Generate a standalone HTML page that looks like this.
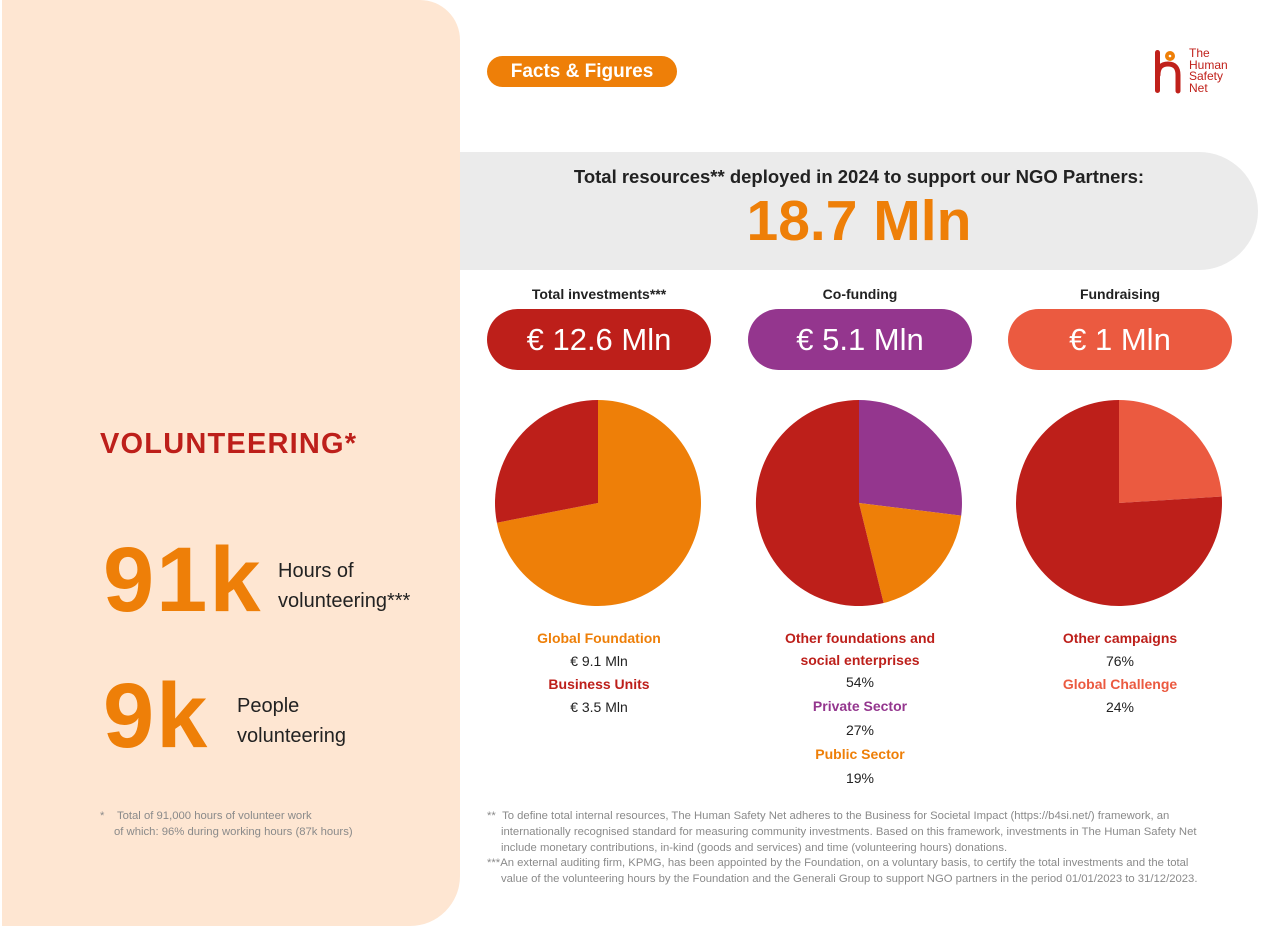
<!DOCTYPE html>
<html><head><meta charset="utf-8"><style>
body{margin:0;width:1288px;height:926px;position:relative;background:#fff;font-family:"Liberation Sans",sans-serif;overflow:hidden}
.a{position:absolute;white-space:nowrap}
.c{text-align:center}
.b{font-weight:bold}
.pill{position:absolute;top:309px;width:224px;height:61px;border-radius:31px;color:#fff;font-size:31px;line-height:61px;text-align:center}
.fn{position:absolute;font-size:11.3px;color:#8a8a8a;white-space:nowrap;line-height:15.8px}
</style></head><body>
<div class="a" style="left:2px;top:0;width:458px;height:926px;background:#fee6d2;border-radius:0 40px 50px 0"></div>
<div class="a" style="left:460px;top:152px;width:798px;height:118px;background:#ebebeb;border-radius:0 59px 59px 0"></div>
<div class="a b" style="left:487px;top:56px;width:190px;height:31px;background:#ee7f08;border-radius:16px;color:#fff;font-size:19px;line-height:31px;text-align:center">Facts &amp; Figures</div>
<svg class="a" style="left:1150px;top:45px" width="40" height="50"><rect x="5" y="5" width="5" height="43" rx="2.5" fill="#c0211b"/><path d="M8 30 q0-11 10-11 q10 0 10 11 v16" fill="none" stroke="#c0211b" stroke-width="5" stroke-linecap="round"/><circle cx="20" cy="11" r="5" fill="#ee7f08"/><circle cx="20" cy="11" r="1.3" fill="#fff"/></svg>
<div class="a" style="left:1189px;top:48px;font-size:12px;line-height:11.5px;color:#c0211b">The<br>Human<br>Safety<br>Net</div>
<div class="a c b" style="left:460px;width:798px;top:166px;font-size:18.5px;color:#222">Total resources** deployed in 2024 to support our NGO Partners:</div>
<div class="a c b" style="left:460px;width:798px;top:188px;font-size:57px;color:#ee7f08">18.7 Mln</div>
<div class="a c b" style="left:487px;width:224px;top:286px;font-size:14px;color:#222">Total investments***</div>
<div class="a c b" style="left:748px;width:224px;top:286px;font-size:14px;color:#222">Co-funding</div>
<div class="a c b" style="left:1008px;width:224px;top:286px;font-size:14px;color:#222">Fundraising</div>
<div class="pill" style="left:487px;background:#bd1f1a">€ 12.6 Mln</div>
<div class="pill" style="left:748px;background:#94368e">€ 5.1 Mln</div>
<div class="pill" style="left:1008px;background:#eb5a40">€ 1 Mln</div>
<svg class="a" style="left:0;top:0" width="1288" height="926">
<path d="M598,503 L598,400 A103,103 0 1,1 496.9,522.7 Z" fill="#ee7f08"/>
<path d="M598,503 L496.9,522.7 A103,103 0 0,1 598,400 Z" fill="#bd1f1a"/>
<path d="M859,503 L859,400 A103,103 0 0,1 961.2,515.6 Z" fill="#94368e"/>
<path d="M859,503 L961.2,515.6 A103,103 0 0,1 883.6,603 Z" fill="#ee7f08"/>
<path d="M859,503 L883.6,603 A103,103 0 1,1 859,400 Z" fill="#bd1f1a"/>
<path d="M1119,503 L1119,400 A103,103 0 0,1 1221.8,496.5 Z" fill="#eb5a40"/>
<path d="M1119,503 L1221.8,496.5 A103,103 0 1,1 1119,400 Z" fill="#bd1f1a"/>
</svg>
<div class="a c" style="left:487px;width:224px;top:627px;font-size:14px;line-height:23px;color:#222"><span class="b" style="color:#ee7f08">Global Foundation</span><br>€ 9.1 Mln<br><span class="b" style="color:#bd1f1a">Business Units</span><br>€ 3.5 Mln</div>
<div class="a c" style="left:748px;width:224px;top:627px;font-size:14px;line-height:22px;color:#222"><span class="b" style="color:#bd1f1a">Other foundations and<br>social enterprises</span><br>54%<br><span class="b" style="color:#94368e;line-height:26px">Private Sector</span><br>27%<br><span class="b" style="color:#ee7f08;line-height:26px">Public Sector</span><br>19%</div>
<div class="a c" style="left:1008px;width:224px;top:627px;font-size:14px;line-height:23px;color:#222"><span class="b" style="color:#bd1f1a">Other campaigns</span><br>76%<br><span class="b" style="color:#eb5a40">Global Challenge</span><br>24%</div>
<div class="a b" style="left:100px;top:428px;font-size:29px;color:#bd1f1a;letter-spacing:1.2px">VOLUNTEERING*</div>
<div class="a b" style="left:103px;top:528px;font-size:92px;color:#ee7f08;letter-spacing:2px">91k</div>
<div class="a" style="left:278px;top:556px;font-size:20px;line-height:30px;color:#222">Hours of<br>volunteering***</div>
<div class="a b" style="left:103px;top:664px;font-size:92px;color:#ee7f08;letter-spacing:2px">9k</div>
<div class="a" style="left:237px;top:691px;font-size:20px;line-height:30px;color:#222">People<br>volunteering</div>
<div class="fn" style="left:100px;top:809px">*&nbsp;&nbsp;&nbsp;&nbsp;Total of 91,000 hours of volunteer work<br><span style="padding-left:14px">of which: 96% during working hours (87k hours)</span></div>
<div class="fn" style="left:487px;top:809px">**&nbsp;&nbsp;To define total internal resources, The Human Safety Net adheres to the Business for Societal Impact (https://b4si.net/) framework, an<br><span style="padding-left:14px">internationally recognised standard for measuring community investments. Based on this framework, investments in The Human Safety Net</span><br><span style="padding-left:14px">include monetary contributions, in-kind (goods and services) and time (volunteering hours) donations.</span><br>***An external auditing firm, KPMG, has been appointed by the Foundation, on a voluntary basis, to certify the total investments and the total<br><span style="padding-left:14px">value of the volunteering hours by the Foundation and the Generali Group to support NGO partners in the period 01/01/2023 to 31/12/2023.</span></div>
</body></html>
